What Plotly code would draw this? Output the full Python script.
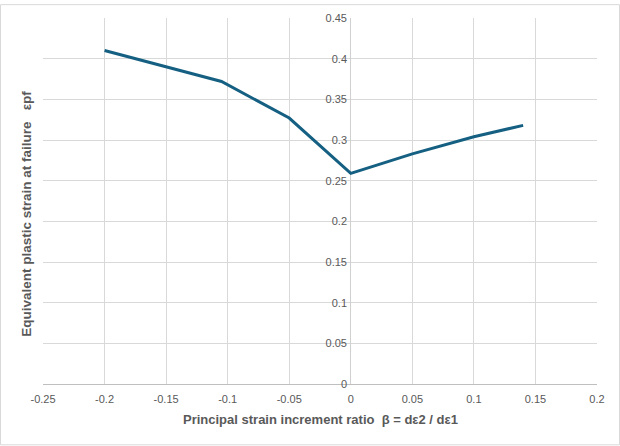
import plotly.graph_objects as go

beta = [-0.2, -0.105, -0.05, 0.0, 0.05, 0.1, 0.14]
strain = [0.410, 0.372, 0.327, 0.259, 0.283, 0.304, 0.318]

x_ticks = [-0.25, -0.2, -0.15, -0.1, -0.05, 0, 0.05, 0.1, 0.15, 0.2]
x_labels = ["-0.25", "-0.2", "-0.15", "-0.1", "-0.05", "0", "0.05", "0.1", "0.15", "0.2"]
y_ticks = [0, 0.05, 0.1, 0.15, 0.2, 0.25, 0.3, 0.35, 0.4, 0.45]
y_labels = ["0", "0.05", "0.1", "0.15", "0.2", "0.25", "0.3", "0.35", "0.4", "0.45"]

x_title = "Principal strain increment ratio  β = dε2 / dε1"
y_title = "Equivalent plastic strain at failure   εpf"

W, H = 620, 446
L, R, T, B = 43, 23, 14, 62
pw, ph = W - L - R, H - T - B

narrow = "Liberation Sans Narrow, Arial Narrow, Liberation Sans, sans-serif"
gray = "#595959"

fig = go.Figure()
fig.add_trace(go.Scatter(x=beta, y=strain, mode="lines",
                         line=dict(color="#156082", width=3), showlegend=False))

fig.update_layout(
    width=W, height=H,
    margin=dict(l=L, r=R, t=T, b=B),
    paper_bgcolor="white", plot_bgcolor="white",
    xaxis=dict(range=[-0.25, 0.2], tickvals=x_ticks, ticktext=x_labels,
               showgrid=True, gridcolor="#D9D9D9", gridwidth=1,
               zeroline=True, zerolinecolor="#D0D0D0", zerolinewidth=1,
               showline=True, linecolor="#BFBFBF", linewidth=1,
               ticks="", tickfont=dict(family=narrow, size=11, color=gray),
               ticklabelstandoff=5, fixedrange=True),
    yaxis=dict(range=[0, 0.45], tickvals=y_ticks, ticktext=y_labels,
               showgrid=True, gridcolor="#D9D9D9", gridwidth=1,
               zeroline=False, showline=False,
               anchor="free", position=(351 - L) / pw,
               ticks="", tickfont=dict(family=narrow, size=11, color=gray),
               ticklabelstandoff=4, fixedrange=True),
    annotations=[
        dict(text=x_title, xref="paper", yref="paper",
             x=0.5, y=-(420 - (T + ph)) / ph, xanchor="center", yanchor="middle",
             showarrow=False, font=dict(family=narrow, size=13, color=gray, weight="bold")),
        dict(text=y_title, xref="paper", yref="paper",
             x=(27 - L) / pw, y=(T + ph - 212) / ph, xanchor="center", yanchor="middle",
             textangle=-90, showarrow=False,
             font=dict(family="Liberation Sans, Arial, sans-serif", size=13.5, color=gray, weight="bold")),
    ],
    shapes=[dict(type="rect", xref="paper", yref="paper",
                 x0=(0.5 - L) / pw, x1=(W - 0.5 - L) / pw,
                 y0=-(H - 0.5 - T - ph) / ph, y1=(T + ph - 0.5) / ph,
                 line=dict(color="#D9D9D9", width=1), layer="below")],
)

fig.write_html("out.html", config={"displayModeBar": False},
               post_script="document.body.style.margin='0';")
